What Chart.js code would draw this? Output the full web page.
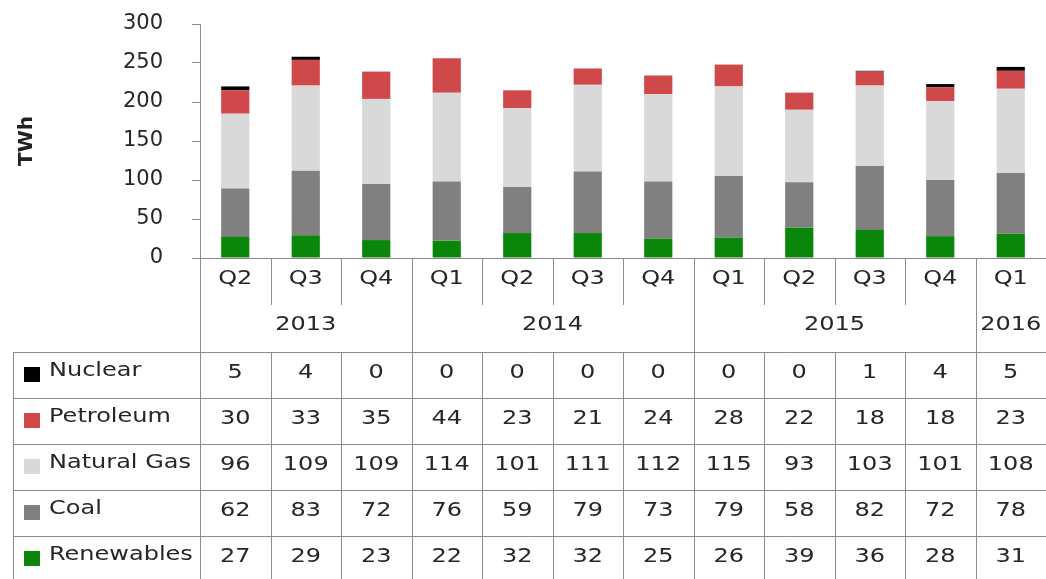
<!DOCTYPE html>
<html>
<head>
<meta charset="utf-8">
<script src="https://cdn.jsdelivr.net/npm/chart.js@4"></script>
<style>
  html, body { margin: 0; padding: 0; background: #fff; }
  #wrap { width: 1046px; height: 579px; position: relative; }
</style>
</head>
<body>
<div id="wrap"><canvas id="chart"></canvas></div>
<script>
// quarterly generation by source, TWh
const quarters = ['Q2', 'Q3', 'Q4', 'Q1', 'Q2', 'Q3', 'Q4', 'Q1', 'Q2', 'Q3', 'Q4', 'Q1'];
const years = ['2013', '2014', '2015', '2016'];
const yearSpans = [3, 4, 4, 1];

const nuclear = [5, 4, 0, 0, 0, 0, 0, 0, 0, 1, 4, 5];
const petroleum = [30, 33, 35, 44, 23, 21, 24, 28, 22, 18, 18, 23];
const naturalGas = [96, 109, 109, 114, 101, 111, 112, 115, 93, 103, 101, 108];
const coal = [62, 83, 72, 76, 59, 79, 73, 79, 58, 82, 72, 78];
const renewables = [27, 29, 23, 22, 32, 32, 25, 26, 39, 36, 28, 31];

const yMin = 0;
const yMax = 300;
const yStep = 50;

// table rows, top to bottom (same as the source table)
const tableRows = [
  { name: 'Nuclear', values: nuclear, color: '#000000' },
  { name: 'Petroleum', values: petroleum, color: '#d0494a' },
  { name: 'Natural Gas', values: naturalGas, color: '#d9d9d9' },
  { name: 'Coal', values: coal, color: '#808080' },
  { name: 'Renewables', values: renewables, color: '#0a870a' },
];

const FONT = '"DejaVu Sans", Verdana, sans-serif';
const TEXT = '#262626';
const LINE = '#8c8c8c';
const STRETCH = 1.2;

function stretchedText(ctx, str, x, y, align) {
  ctx.save();
  ctx.translate(x, y);
  ctx.scale(STRETCH, 1);
  ctx.textAlign = align;
  ctx.fillText(str, 0, 0);
  ctx.restore();
}

function hLine(ctx, x1, x2, y) {
  ctx.beginPath();
  ctx.moveTo(x1, Math.round(y) + 0.5);
  ctx.lineTo(x2, Math.round(y) + 0.5);
  ctx.stroke();
}

function vLine(ctx, x, y1, y2) {
  ctx.beginPath();
  ctx.moveTo(Math.round(x) + 0.5, y1);
  ctx.lineTo(Math.round(x) + 0.5, y2);
  ctx.stroke();
}

const dataTable = {
  id: 'dataTable',
  afterDraw(chart) {
    const ctx = chart.ctx;
    const xs = chart.scales.x;
    const base = chart.chartArea.bottom;
    const half = (xs.getPixelForValue(1) - xs.getPixelForValue(0)) / 2;
    const left = xs.getPixelForValue(0) - half;
    const right = xs.getPixelForValue(quarters.length - 1) + half;
    const qBottom = base + 47;
    const tableTop = base + 94;
    const rowH = 46;
    const tableLeft = 13;
    const bottom = chart.height + 5;

    ctx.save();
    ctx.strokeStyle = LINE;
    ctx.lineWidth = 1;

    // baseline
    hLine(ctx, left, right, base);

    // header separators: short between quarters, long between years
    const yearEnds = [];
    let acc = 0;
    yearSpans.forEach(s => { acc += s; yearEnds.push(acc); });
    for (let i = 1; i < quarters.length; i++) {
      const bx = xs.getPixelForValue(i) - half;
      vLine(ctx, bx, base, yearEnds.includes(i) ? tableTop : qBottom);
      vLine(ctx, bx, tableTop, bottom);
    }
    vLine(ctx, left, base, bottom);
    vLine(ctx, tableLeft, tableTop, bottom);

    // row lines
    for (let r = 0; r < tableRows.length; r++) {
      hLine(ctx, tableLeft, right, tableTop + r * rowH);
    }

    // text
    ctx.fillStyle = TEXT;
    ctx.font = '20px ' + FONT;
    ctx.textBaseline = 'middle';
    quarters.forEach((q, i) => {
      stretchedText(ctx, q, xs.getPixelForValue(i), base + 21, 'center');
    });
    let start = 0;
    years.forEach((yr, k) => {
      const a = xs.getPixelForValue(start) - half;
      const b = xs.getPixelForValue(start + yearSpans[k] - 1) + half;
      stretchedText(ctx, yr, (a + b) / 2, base + 67, 'center');
      start += yearSpans[k];
    });

    tableRows.forEach((row, r) => {
      const cy = tableTop + r * rowH + 19;
      ctx.fillStyle = row.color;
      ctx.fillRect(24, cy - 4, 16, 15);
      ctx.fillStyle = TEXT;
      stretchedText(ctx, row.name, 49, cy, 'left');
      row.values.forEach((v, i) => {
        stretchedText(ctx, String(v), xs.getPixelForValue(i), cy + 2, 'center');
      });
    });

    // y axis title
    ctx.save();
    ctx.translate(27, 141);
    ctx.rotate(-Math.PI / 2);
    ctx.font = 'bold 20px ' + FONT;
    ctx.fillStyle = '#222';
    ctx.textAlign = 'center';
    ctx.fillText('TWh', 0, 0);
    ctx.restore();

    ctx.restore();
  }
};

function dataset(label, values, color) {
  return {
    label,
    data: values,
    backgroundColor: color,
    borderWidth: 0,
    barPercentage: 0.4,
    categoryPercentage: 1,
  };
}

new Chart(document.getElementById('chart'), {
  type: 'bar',
  data: {
    labels: quarters,
    datasets: [
      dataset('Renewables', renewables, '#0a870a'),
      dataset('Coal', coal, '#808080'),
      dataset('Natural Gas', naturalGas, '#d9d9d9'),
      dataset('Petroleum', petroleum, '#d0494a'),
      dataset('Nuclear', nuclear, '#000000'),
    ],
  },
  options: {
    responsive: true,
    maintainAspectRatio: false,
    animation: false,
    layout: { padding: { top: 24, bottom: 321, left: 0, right: 0 } },
    plugins: {
      legend: { display: false },
      tooltip: { enabled: false },
    },
    scales: {
      x: { stacked: true, display: false },
      y: {
        stacked: true,
        min: yMin,
        max: yMax,
        ticks: {
          stepSize: yStep,
          color: TEXT,
          padding: 29,
          font: { family: FONT, size: 21 },
        },
        grid: { drawOnChartArea: false, drawTicks: true, tickLength: 8, color: LINE },
        border: { display: true, color: LINE },
        afterFit(scale) {
          scale.width = 200;
          scale.paddingTop = 0;
          scale.paddingBottom = 0;
        },
      },
    },
  },
  plugins: [dataTable],
});
</script>
</body>
</html>
